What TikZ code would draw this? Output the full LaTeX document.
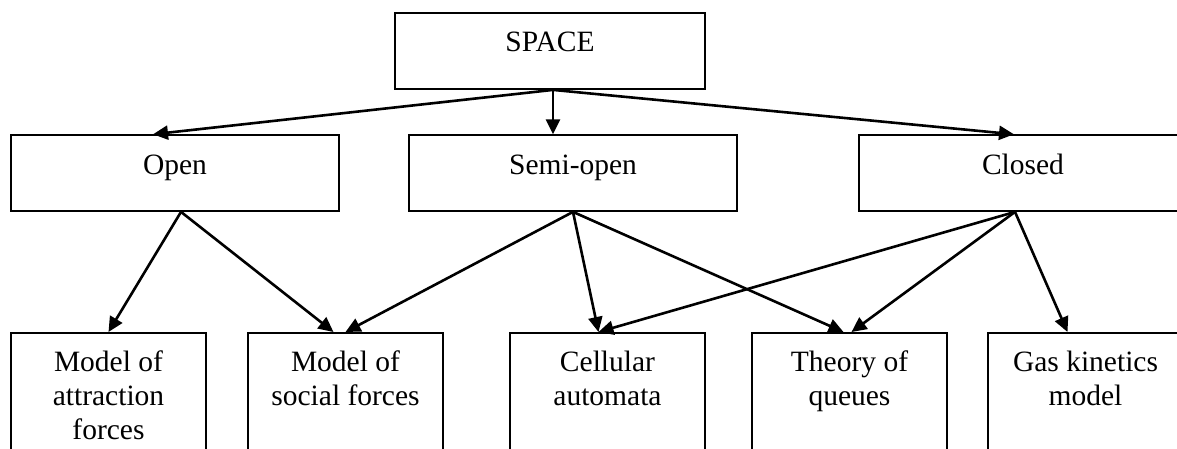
\documentclass[tikz,border=0pt]{standalone}
\usepackage{fontspec}
\setmainfont{Liberation Serif}
\usetikzlibrary{arrows.meta}
\begin{document}
\begin{tikzpicture}[x=1pt, y=-1pt, font=\fontsize{29.5}{34.2}\selectfont,
  topbox/.style={draw, line width=1.6pt, anchor=north, minimum width=310pt, inner xsep=0pt, inner ysep=0pt, text height=38.7pt, text depth=37.3pt},
  box/.style={draw, line width=1.6pt, anchor=north, minimum width=328pt, inner xsep=0pt, inner ysep=0pt, text height=39.5pt, text depth=36.5pt},
  leaf/.style={draw, line width=1.6pt, anchor=north, minimum width=195pt, align=center, inner xsep=0pt, inner ysep=18pt, text depth=130pt},
  arr/.style={line width=2.6pt, -{Triangle[length=15pt, width=14pt]}}]
\clip (0,0) rectangle (1177,449);

\node (sp) at (550,12.3) [topbox] {SPACE};

\node (op) at (175,134.3) [box] {Open};
\node (so) at (573,134.3) [box] {Semi-open};
\node (cl) at (1023,134.3) [box] {Closed};

\node (ma) at (108.5,332) [leaf] {Model of\\attraction\\forces};
\node (ms) at (345.5,332) [leaf] {Model of\\social forces};
\node (ca) at (607.5,332) [leaf] {Cellular\\automata};
\node (tq) at (849.5,332) [leaf] {Theory of\\queues};
\node (gk) at (1085.5,332) [leaf] {Gas kinetics\\model};

% space -> kinds of space
\draw[arr] ([xshift=3pt]sp.south) to ([xshift=-22pt]op.north);
\draw[arr] ([xshift=3pt]sp.south) to ([xshift=-20pt]so.north);
\draw[arr] ([xshift=3pt]sp.south) to ([xshift=-9pt]cl.north);

% kinds of space -> models
\draw[arr] ([xshift=6pt]op.south) to (ma.north);
\draw[arr] ([xshift=6pt]op.south) to ([xshift=-12pt]ms.north);
\draw[arr] (so.south) to (ms.north);
\draw[arr] (so.south) to ([xshift=-9pt]ca.north);
\draw[arr] (so.south) to ([xshift=-6pt]tq.north);
\draw[arr] ([xshift=-8pt]cl.south) to ([xshift=-9pt]ca.north);
\draw[arr] ([xshift=-8pt]cl.south) to ([xshift=2pt]tq.north);
\draw[arr] ([xshift=-8pt]cl.south) to ([xshift=-18pt]gk.north);
\end{tikzpicture}
\end{document}
